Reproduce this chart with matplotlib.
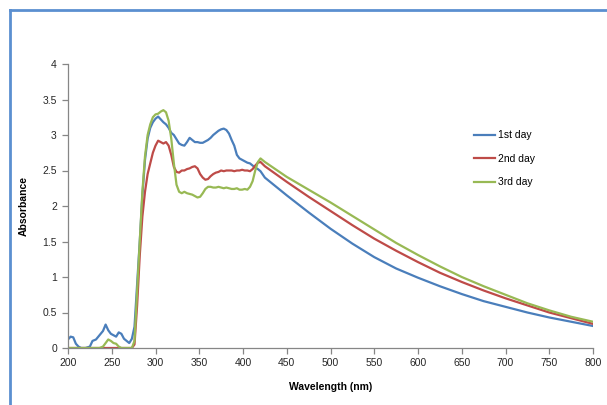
import matplotlib
matplotlib.use("Agg")
import matplotlib.pyplot as plt
from matplotlib.lines import Line2D

wavelength = [200, 203, 206, 209, 212, 215, 220, 225, 228, 232, 236, 240, 243, 246, 249, 252, 255, 258, 261, 264,
              267, 270, 273, 276, 279, 282, 285, 288, 291, 294, 297, 300, 303, 306, 309, 312, 315, 318, 321, 324,
              327, 330, 333, 336, 339, 342, 345, 348, 351, 354, 357, 360, 363, 366, 369, 372, 375, 378, 381, 384,
              387, 390, 393, 396, 399, 402, 405, 408, 411, 414, 417, 420, 425, 450, 475, 500, 525, 550, 575, 600,
              625, 650, 675, 700, 725, 750, 775, 800]

day1 = [0.12, 0.16, 0.15, 0.06, 0.02, 0.0, 0.0, 0.02, 0.10, 0.12, 0.18, 0.24, 0.33, 0.25, 0.20, 0.18, 0.16, 0.22, 0.20, 0.13,
        0.10, 0.07, 0.13, 0.30, 0.90, 1.50, 2.15, 2.65, 2.95, 3.10, 3.18, 3.23, 3.26, 3.22, 3.18, 3.15, 3.10, 3.03, 3.00, 2.94,
        2.88, 2.86, 2.85, 2.90, 2.96, 2.93, 2.90, 2.90, 2.89, 2.89, 2.91, 2.93, 2.96, 3.00, 3.03, 3.06, 3.08, 3.09, 3.07, 3.02,
        2.93, 2.85, 2.72, 2.67, 2.65, 2.63, 2.61, 2.60, 2.57, 2.54, 2.52, 2.49, 2.40, 2.15, 1.91, 1.68, 1.47, 1.28, 1.12, 0.99,
        0.87, 0.76, 0.66, 0.58, 0.50, 0.43, 0.37, 0.31]

day2 = [0.0, 0.0, 0.0, 0.0, 0.0, 0.0, 0.0, 0.0, 0.0, 0.0, 0.0, 0.0, 0.0, 0.0, 0.0, 0.0, 0.0, 0.0, 0.0, 0.0,
        0.0, 0.0, 0.0, 0.05, 0.60, 1.30, 1.85, 2.20, 2.45, 2.60, 2.75, 2.85, 2.92, 2.90, 2.88, 2.90, 2.85, 2.72, 2.55, 2.48,
        2.47, 2.50, 2.50, 2.52, 2.53, 2.55, 2.56, 2.53, 2.45, 2.40, 2.37, 2.38, 2.42, 2.45, 2.47, 2.48, 2.50, 2.49, 2.50, 2.50,
        2.50, 2.49, 2.50, 2.50, 2.51, 2.50, 2.50, 2.49, 2.52, 2.57, 2.61, 2.62, 2.56, 2.34, 2.13, 1.93, 1.73, 1.54, 1.37, 1.21,
        1.06, 0.93, 0.81, 0.70, 0.60, 0.50, 0.42, 0.34]

day3 = [0.0, 0.0, 0.0, 0.0, 0.0, 0.0, 0.0, 0.0, 0.0, 0.0, 0.0, 0.02, 0.07, 0.12, 0.10, 0.07, 0.06, 0.02, 0.0, 0.0,
        0.0, 0.0, 0.0, 0.10, 0.80, 1.50, 2.20, 2.70, 3.00, 3.15, 3.25, 3.29, 3.30, 3.33, 3.35, 3.32, 3.20, 2.95, 2.60, 2.30,
        2.20, 2.18, 2.20, 2.18, 2.17, 2.16, 2.14, 2.12, 2.13, 2.18, 2.24, 2.27, 2.27, 2.26, 2.26, 2.27, 2.26, 2.25, 2.26, 2.25,
        2.24, 2.24, 2.25, 2.23, 2.23, 2.24, 2.23, 2.27, 2.35, 2.50, 2.62, 2.67, 2.62, 2.41, 2.23, 2.05, 1.86, 1.67, 1.48, 1.31,
        1.15, 1.00, 0.87, 0.75, 0.63, 0.53, 0.44, 0.37]

series_labels = ["1st day", "2nd day", "3rd day"]
series_colors = ["#4a7ebb", "#be4b48", "#98b954"]
x_ticks = [200, 250, 300, 350, 400, 450, 500, 550, 600, 650, 700, 750, 800]
y_ticks = [0, 0.5, 1, 1.5, 2, 2.5, 3, 3.5, 4]
y_ticklabels = ["0", "0.5", "1", "1.5", "2", "2.5", "3", "3.5", "4"]

plt.rcParams['font.family'] = ['Liberation Sans', 'DejaVu Sans']

W, H = 607, 405
fig = plt.figure(figsize=(W / 100, H / 100), dpi=100)
fig.patch.set_facecolor("white")

# outer blue frame (left and top edges visible)
fig.add_artist(Line2D([10 / W, 10 / W], [0, 1 - 10 / H], color="#5b8fd0", lw=2, transform=fig.transFigure))
fig.add_artist(Line2D([10 / W, 1], [1 - 10 / H, 1 - 10 / H], color="#5b8fd0", lw=2, transform=fig.transFigure))

ax = fig.add_axes([68 / W, 1 - 348 / H, (593 - 68) / W, (348 - 64) / H])
for vals, lab, col in zip([day1, day2, day3], series_labels, series_colors):
    ax.plot(wavelength, vals, color=col, lw=1.6, label=lab, solid_joinstyle="round")

ax.set_xlim(200, 800)
ax.set_ylim(0, 4)
ax.set_xticks(x_ticks)
ax.set_xticklabels([str(t) for t in x_ticks])
ax.set_yticks(y_ticks)
ax.set_yticklabels(y_ticklabels)
for s in ["top", "right"]:
    ax.spines[s].set_visible(False)
for s in ["left", "bottom"]:
    ax.spines[s].set_color("#868686")
    ax.spines[s].set_linewidth(0.9)
ax.tick_params(axis="both", direction="out", length=4, width=0.9, color="#868686",
               labelsize=7.5, labelcolor="#262626", pad=3)
ax.tick_params(axis="y", pad=4)

ax.set_xlabel("Wavelength (nm)", fontsize=7.5, fontweight="bold", labelpad=10)
ax.set_ylabel("Absorbance", fontsize=7.5, fontweight="bold", labelpad=10)

leg = ax.legend(loc="upper left", bbox_to_anchor=(0.755, 0.80), frameon=False, fontsize=7.5,
                handlelength=2.0, handletextpad=0.3, labelspacing=1.3)

fig.savefig("out.png", dpi=100, facecolor="white")
